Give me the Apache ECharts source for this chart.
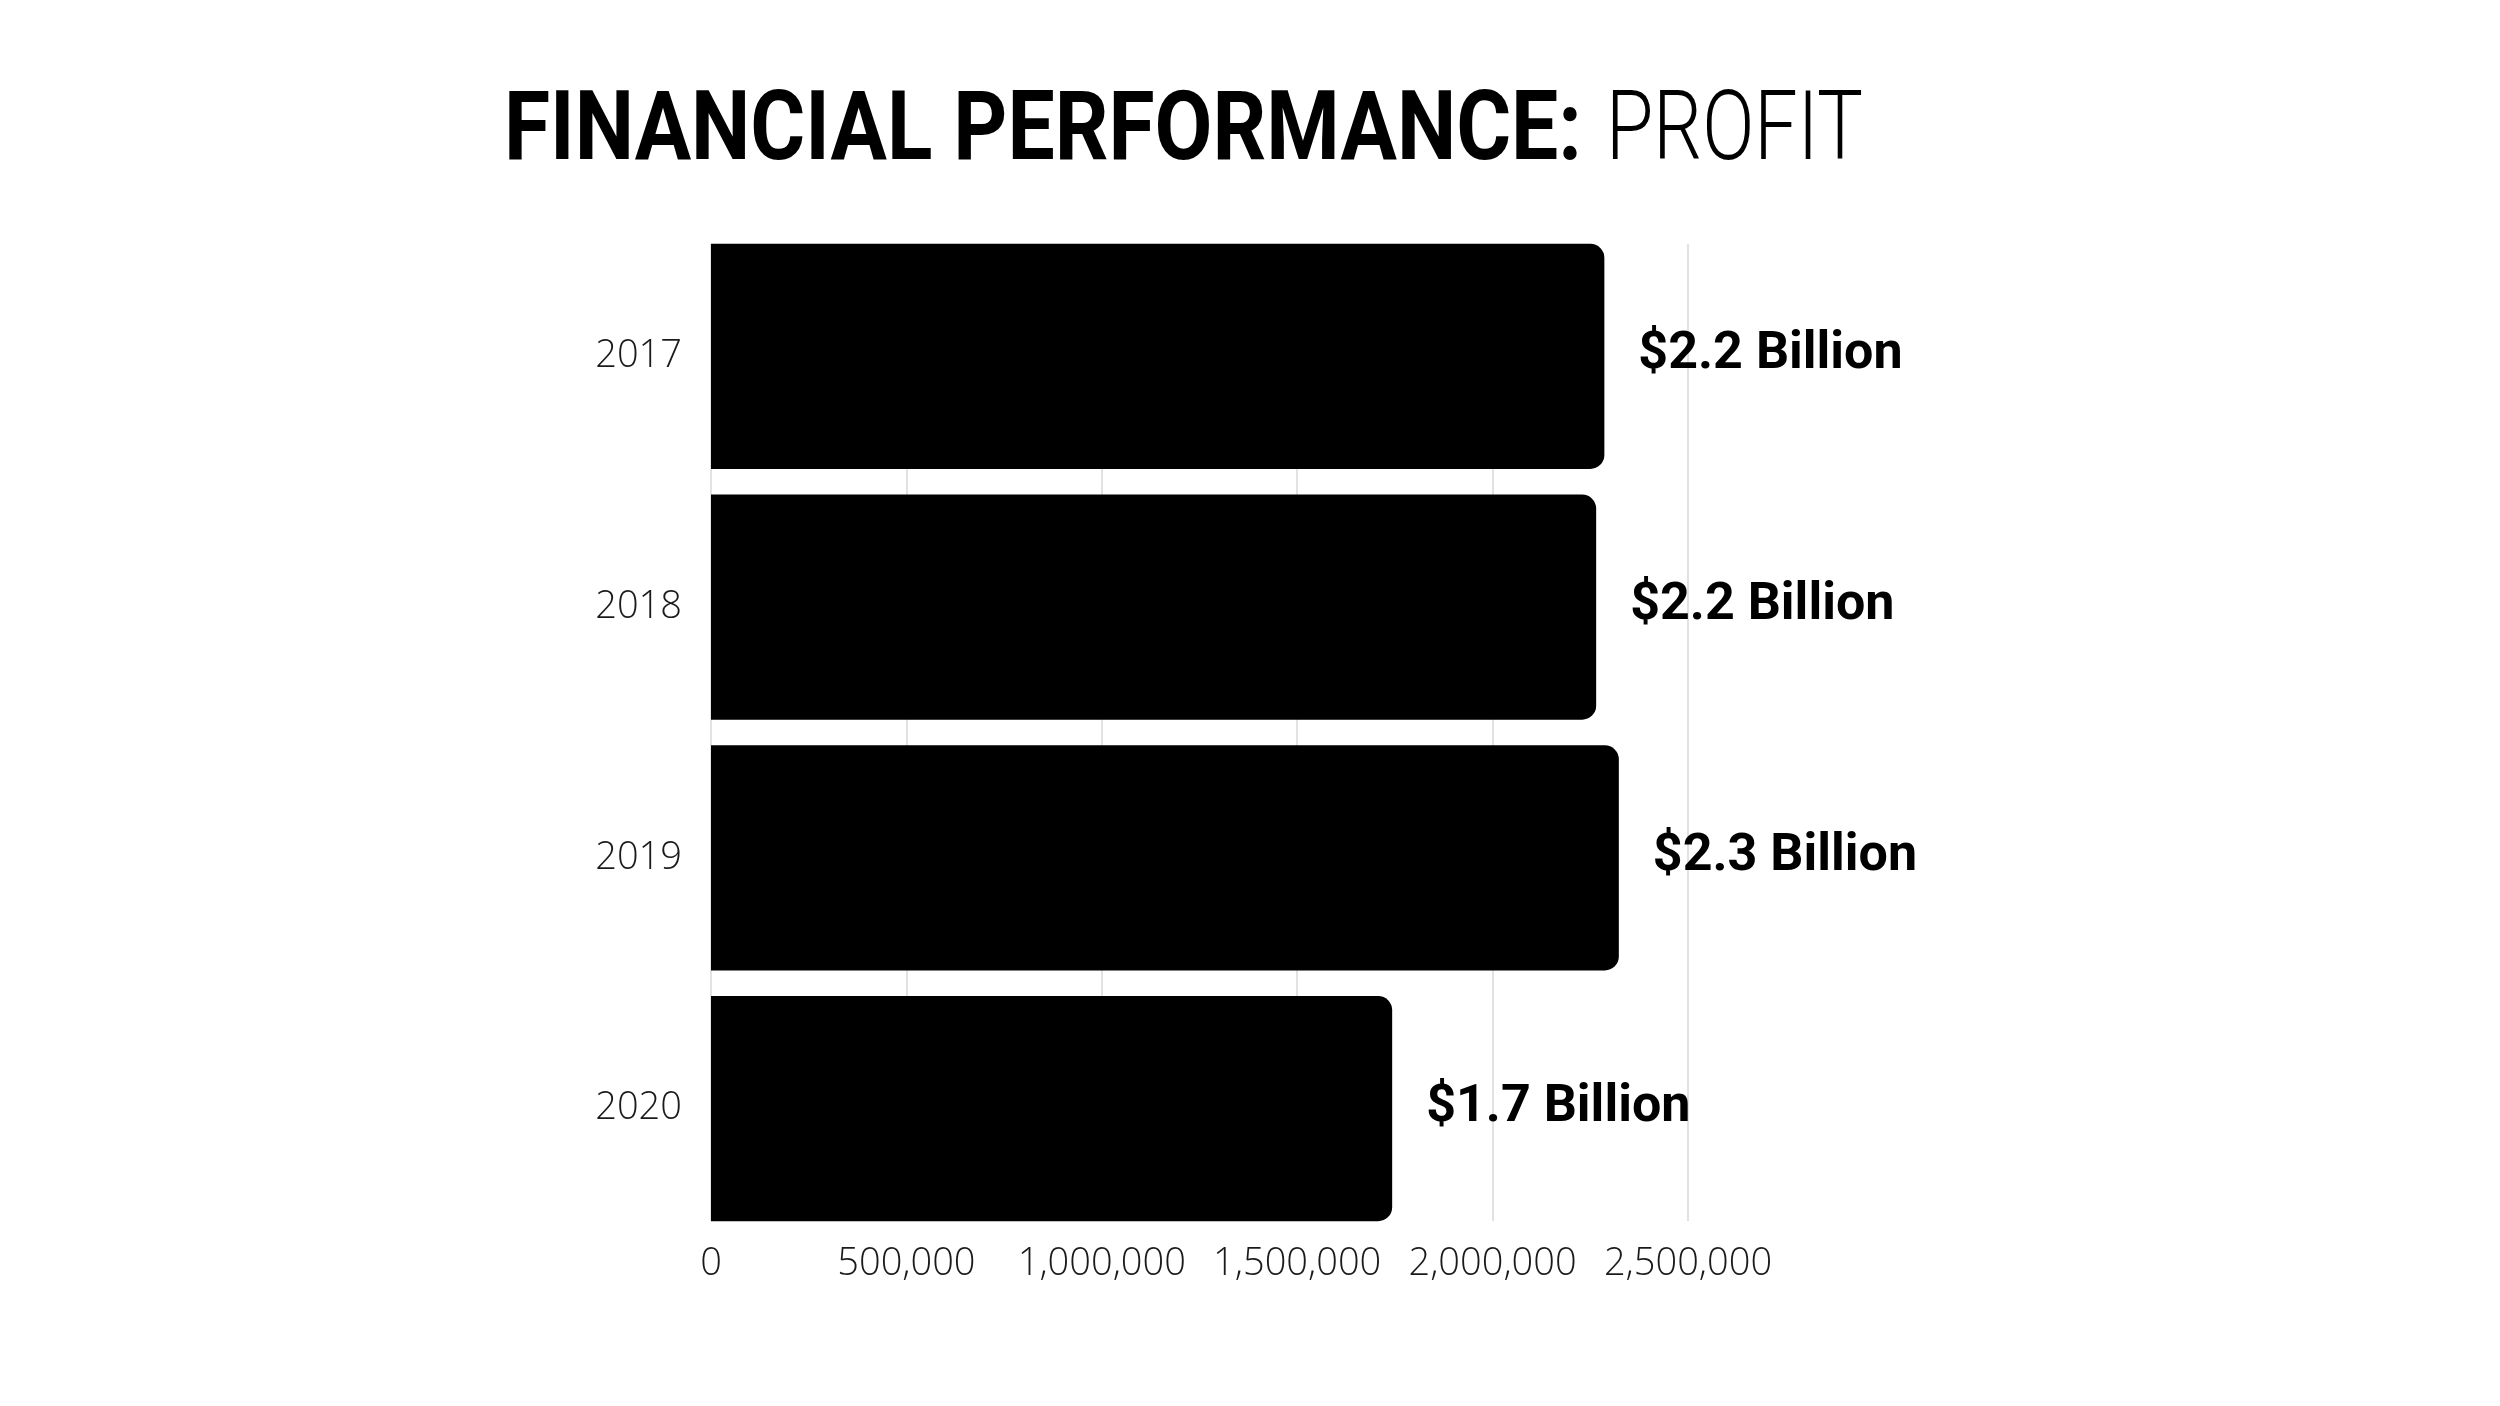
<!DOCTYPE html>
<html>
<head>
<meta charset="utf-8">
<script src="https://cdn.jsdelivr.net/npm/echarts@6/dist/echarts.min.js"></script>
<style>
html,body{margin:0;padding:0;background:#fff;}
#chart{width:2500px;height:1406px;}
</style>
</head>
<body>
<div id="chart"></div>
<script>
const titleBold = 'FINANCIAL PERFORMANCE:';
const titleLight = 'PROFIT';
const categories = ['2017', '2018', '2019', '2020'];
const profits = [2286000, 2265000, 2323000, 1743000];
const valueLabels = ['$2.2 Billion', '$2.2 Billion', '$2.3 Billion', '$1.7 Billion'];
const xTicks = [0, 500000, 1000000, 1500000, 2000000, 2500000];

const chart = echarts.init(document.getElementById('chart'));
const fmt = v => v.toLocaleString('en-US');

// condense the title font to the reference's narrow face
const ctx = document.createElement('canvas').getContext('2d');
function measure(text, font) { ctx.font = font; return ctx.measureText(text).width; }
const boldFont = 'bold 96px Roboto';
const lightFont = '300 96px Roboto';
const boldScale = 1078 / measure(titleBold, boldFont);
const lightScale = 257 / measure(titleLight, lightFont);

chart.setOption({
  backgroundColor: '#ffffff',
  animation: false,
  graphic: [
    {
      type: 'text', x: 504, y: 135, scaleX: boldScale,
      style: { text: titleBold, font: boldFont, fill: '#000', verticalAlign: 'middle', align: 'left' }
    },
    {
      type: 'text', x: 1606, y: 135, scaleX: lightScale,
      style: { text: titleLight, font: lightFont, fill: '#000', verticalAlign: 'middle', align: 'left' }
    }
  ],
  grid: [
    { left: 711, right: 812, top: 231, bottom: 172 },
    { left: 711, right: 812, top: 244, bottom: 185 }
  ],
  xAxis: [
    {
      gridIndex: 0, type: 'value', min: xTicks[0], max: xTicks[xTicks.length - 1], interval: 500000,
      axisLabel: { show: false }, axisLine: { show: false }, axisTick: { show: false }, splitLine: { show: false }
    },
    {
      gridIndex: 1, type: 'value', min: xTicks[0], max: xTicks[xTicks.length - 1], interval: 500000,
      axisLine: { show: false }, axisTick: { show: false },
      splitLine: { show: true, lineStyle: { color: '#d9d9d9', width: 1.5 } },
      axisLabel: { formatter: fmt, fontFamily: 'Open Sans', fontWeight: 300, fontSize: 38, color: '#1a1a1a', margin: 24 }
    }
  ],
  yAxis: [
    {
      gridIndex: 0, type: 'category', data: categories, inverse: true,
      axisLine: { show: false }, axisTick: { show: false },
      axisLabel: { fontFamily: 'Open Sans', fontWeight: 300, fontSize: 38, color: '#1a1a1a', margin: 29 }
    },
    {
      gridIndex: 1, type: 'category', data: categories, inverse: true, show: false
    }
  ],
  series: [{
    type: 'bar',
    xAxisIndex: 0, yAxisIndex: 0,
    data: profits,
    barCategoryGap: '10.2%',
    z: 5,
    itemStyle: { color: '#000', borderRadius: [0, 14, 14, 0] },
    label: {
      show: true, position: 'right', distance: 34, offset: [0, -1],
      formatter: p => valueLabels[p.dataIndex],
      fontFamily: 'Roboto', fontWeight: 'bold', fontSize: 52, color: '#000'
    }
  }]
});
</script>
</body>
</html>
